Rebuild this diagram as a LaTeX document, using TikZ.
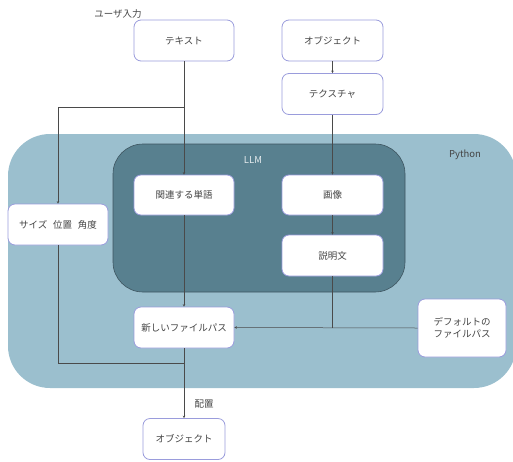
\documentclass[tikz,border=0pt]{standalone}
\usepackage{fontspec}
\setmainfont{Noto Sans CJK JP}
\usetikzlibrary{arrows.meta}
\definecolor{pyfill}{HTML}{9BBFCE}
\definecolor{llmfill}{HTML}{58808F}
\definecolor{llmdraw}{HTML}{3E5560}
\definecolor{boxdraw}{HTML}{9A9CDC}
\definecolor{txt}{HTML}{444444}
\definecolor{ln}{HTML}{4A4A4A}
\begin{document}
\begin{tikzpicture}[x=1pt,y=-1pt,
  box/.style={draw=boxdraw,line width=0.8pt,fill=white,rounded corners=7pt,minimum width=100pt,minimum height=41pt,inner sep=0pt,align=center,text=txt,font=\fontsize{9.5}{12}\selectfont},
  lbl/.style={text=txt,font=\fontsize{9.5}{12}\selectfont,inner sep=0pt},
  conn/.style={draw=ln,line width=0.5pt},
  arr/.style={conn,-{Stealth[length=2.5pt,width=2.5pt]}}]
\useasboundingbox (0,0) rectangle (513,461);
% regions
\fill[pyfill,rounded corners=42pt] (8,134) rectangle (516,388);
\path[fill=llmfill,draw=llmdraw,line width=0.6pt,rounded corners=30pt] (113,144) rectangle (405,292);
\node[lbl] (pylbl) at (465,155) {Python};
\node[lbl,text=white!85!llmfill] (llmlbl) at (253,160) {LLM};
% nodes
\node[lbl] (user) at (118,14) {ユーザ入力};
\node[box] (text) at (184,40.5) {テキスト};
\node[box,minimum width=101pt] (obj1) at (332.5,40.5) {オブジェクト};
\node[box,minimum width=101pt] (tex) at (332.5,94) {テクスチャ};
\node[box,minimum height=40pt] (words) at (184,195) {関連する単語};
\node[box,minimum width=101pt,minimum height=40pt] (img) at (332.5,195) {画像};
\node[box,minimum width=101pt] (desc) at (332.5,255.5) {説明文};
\node[box] (spa) at (58,224.5) {サイズ\hspace{0.6em}位置\hspace{0.6em}角度};
\node[box] (newp) at (184,327.5) {新しいファイルパス};
\node[box,minimum width=88pt,minimum height=58pt] (defp) at (462,328) {デフォルトの\\ファイルパス};
\node[box,minimum width=82pt] (obj2) at (184,439) {オブジェクト};
\node[lbl] (place) at (204,404) {配置};
% connectors
\coordinate (split) at (184,107);
\coordinate (joinA) at (332.5,328);
\coordinate (joinB) at (184,363);
\draw[conn] (text.south) -- (split);
\draw[arr] (split) -- (words.north);
\draw[arr] (split) -| (spa.north);
\draw[arr] (obj1) -- (tex);
\draw[arr] (tex) -- (img);
\draw[arr] (img) -- (desc);
\draw[arr] (words) -- (newp);
\draw[conn] (desc.south) -- (joinA);
\draw[arr] (defp.west) -- (newp.east);
\draw[conn] (spa.south) |- (joinB);
\draw[arr] (newp) -- (obj2);
\end{tikzpicture}
\end{document}
